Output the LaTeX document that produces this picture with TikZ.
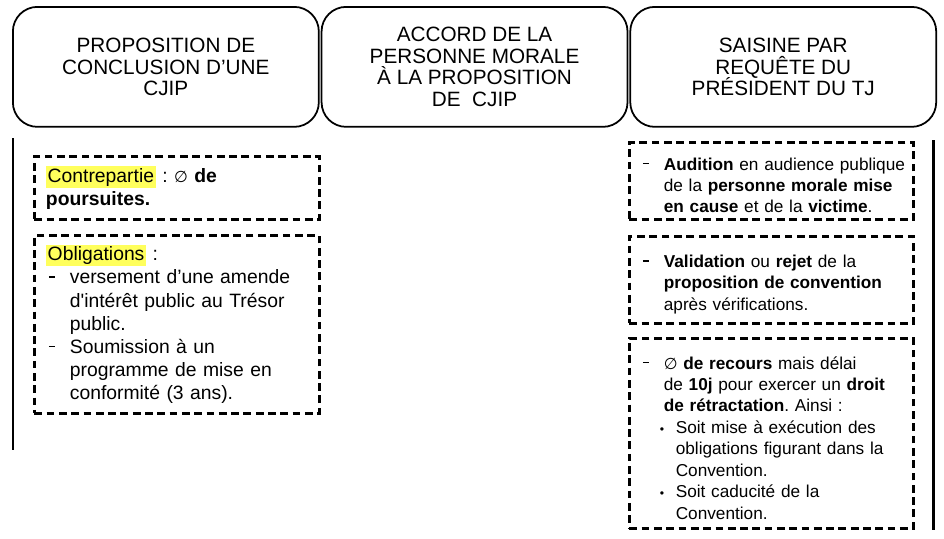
\documentclass[tikz,border=0pt]{standalone}
\usepackage{fontspec}
\setmainfont{Liberation Sans}
\newfontfamily\symb{DejaVu Sans}
\usepackage{tikz}
\usetikzlibrary{positioning}
\setlength{\parindent}{0pt}
\frenchspacing
\definecolor{jaune}{RGB}{255,255,92}
\newcommand{\surligne}[1]{{\setlength{\fboxsep}{1pt}\colorbox{jaune}{#1}}}
\newcommand{\vide}{{\symb\small ∅}}
% tiret : #1 = retrait du tiret, #2 = retrait du texte
\newcommand{\tiret}[2]{\par\noindent\hangindent=#2\hangafter=1\makebox[#2][l]{\hspace{#1}\raisebox{.62ex}{\rule{3.6pt}{.9pt}}}}
\newcommand{\puce}{\par\noindent\hangindent=22.1pt\hangafter=1\makebox[22.1pt][l]{\hspace{13pt}{\scriptsize •}}}

\begin{document}
\begin{tikzpicture}[x=0.02cm,y=-0.02cm,
  tete/.style={draw,line width=1pt,rounded corners=14pt,minimum width=6.12cm,minimum height=2.4cm,
    inner sep=0pt,align=center,font=\fontsize{11.8}{12.5}\selectfont},
  cadre/.style={draw,line width=1.6pt,dash pattern=on 4.4pt off 2.6pt,anchor=north west,align=left},
  gauche/.style={cadre,minimum width=5.7cm,inner xsep=6.2pt,inner ysep=0pt,text width=149pt,
    font=\fontsize{11}{13.2}\selectfont},
  droite/.style={cadre,minimum width=5.68cm,inner xsep=4pt,inner ysep=0pt,text width=153pt,
    font=\fontsize{9.8}{12.2}\selectfont},
  barre/.style={line width=1.7pt}]
\useasboundingbox (0,0) rectangle (944,538);

% les trois etapes
\node[tete,anchor=north west] (prop) at (12,6) {PROPOSITION DE\\CONCLUSION D’UNE\\CJIP};
\node[tete,right=0.02cm of prop] (accord) {ACCORD DE LA\\PERSONNE MORALE\\À LA PROPOSITION\\DE~~CJIP};
\node[tete,right=0.02cm of accord] (saisine) {SAISINE PAR\\REQUÊTE DU\\PRÉSIDENT DU TJ};

% colonne de gauche
\coordinate (g1) at (13,138);
\coordinate (g2) at (13,450);
\draw[barre] (g1) -- (g2);
\node[gauche,minimum height=1.26cm] (contre) at (33,155)
  {\surligne{Contrepartie} : \vide{} \textbf{de}\newline \textbf{poursuites.}\par};
\node[gauche,minimum height=3.56cm] (oblig) at (33,234)
  {\surligne{Obligations} :%
   \tiret{1.7pt}{13.6pt}versement d’une amende\newline d\textquotesingle intérêt public au Trésor\newline public.%
   \tiret{1.7pt}{13.6pt}Soumission à un\newline programme de mise en\newline conformité (3 ans).\par};

% colonne de droite
\coordinate (d1) at (933.5,140);
\coordinate (d2) at (933.5,530);
\draw[barre] (d1) -- (d2);
\node[droite,minimum height=1.54cm] (audition) at (628,141)
  {\tiret{3.4pt}{15.3pt}\textbf{Audition} en audience publique\newline de la \textbf{personne morale mise}\newline
   \textbf{en cause} et de la \textbf{victime}.\par};
\node[droite,minimum height=1.74cm] (valid) at (628,235)
  {\tiret{3.4pt}{15.3pt}\textbf{Validation} ou \textbf{rejet} de la\newline \textbf{proposition de convention}\newline
   après vérifications.\par};
\node[droite,minimum height=3.8cm] (recours) at (628,337)
  {\tiret{3.4pt}{15.3pt}\vide{} \textbf{de recours} mais délai\newline de \textbf{10j} pour exercer un \textbf{droit}\newline
   \textbf{de rétractation}. Ainsi :%
   \puce Soit mise à exécution des\newline obligations figurant dans la\newline Convention.%
   \puce Soit caducité de la\newline Convention.\par};
\end{tikzpicture}
\end{document}
